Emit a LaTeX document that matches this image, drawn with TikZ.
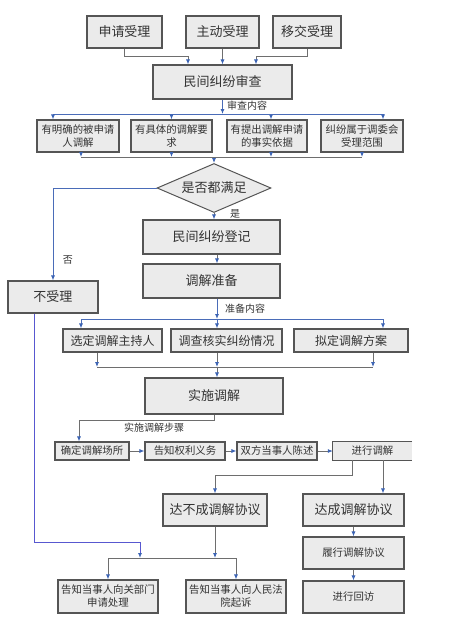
\documentclass[tikz,border=0pt]{standalone}
\usepackage{fontspec}
\setmainfont{Noto Sans CJK SC}
\usetikzlibrary{arrows.meta,shapes.geometric,shadows}
\definecolor{boxline}{HTML}{555555}
\definecolor{boxfill}{HTML}{EBEBEB}
\definecolor{lineg}{HTML}{6E6E6E}
\definecolor{lineb}{HTML}{4A6CB8}
\definecolor{linev}{HTML}{5858D0}
\definecolor{tipb}{HTML}{3C64B4}
\begin{document}
\begin{tikzpicture}[x=1pt,y=-1pt,
		>={Latex[length=5pt,width=4pt,color=tipb]},
		box/.style={draw=boxline,fill=boxfill,line width=1.1pt,inner sep=0pt,align=center,text=black!80,
			drop shadow={shadow xshift=1pt,shadow yshift=-1pt,fill=black!40,opacity=0.6}},
		wh/.style 2 args={minimum width=#1,minimum height=#2},
		bigtxt/.style={font=\fontsize{13}{15}\selectfont},
		smalltxt/.style={font=\fontsize{10.4}{13}\selectfont},
		gline/.style={draw=lineg,line width=0.8pt},
		bline/.style={draw=lineb,line width=0.9pt},
		vline/.style={draw=linev,line width=0.9pt},
		lbl/.style={font=\fontsize{10}{12}\selectfont,inner sep=0pt,text=black!80}]
		\useasboundingbox (0,0) rectangle (448,633);

		% three ways in
		\node[box,bigtxt,wh={75}{32}] (sq) at (124.5,32) {申请受理};
		\node[box,bigtxt,wh={73}{32}] (zd) at (222.5,32) {主动受理};
		\node[box,bigtxt,wh={68}{32}] (yj) at (307,32) {移交受理};
		\node[box,bigtxt,wh={139}{34}] (sc) at (222.5,82) {民间纠纷审查};

		\node[box,smalltxt,wh={82}{32}] (tj1) at (78,136) {有明确的被申请\\人调解};
		\node[box,smalltxt,wh={81}{32}] (tj2) at (171.5,136) {有具体的调解要\\求};
		\node[box,smalltxt,wh={80}{32}] (tj3) at (267,136) {有提出调解申请\\的事实依据};
		\node[box,smalltxt,wh={82}{32}] (tj4) at (362,136) {纠纷属于调委会\\受理范围};

		\node[diamond,draw=boxline,fill=boxfill,line width=1pt,bigtxt,text=black!80,aspect=2.3,
			minimum width=114,minimum height=49,inner sep=0pt] (pd) at (214,188) {是否都满足};

		\node[box,bigtxt,wh={90}{32}] (bsl) at (53,297) {不受理};
		\node[box,bigtxt,wh={137}{34}] (dj) at (211.5,237) {民间纠纷登记};
		\node[box,bigtxt,wh={137}{34}] (zb) at (211.5,281) {调解准备};

		\node[box,font=\fontsize{12}{14}\selectfont,wh={99}{23}] (ty1) at (112.5,340.5) {选定调解主持人};
		\node[box,font=\fontsize{12}{14}\selectfont,wh={111}{23}] (ty2) at (226.5,340.5) {调查核实纠纷情况};
		\node[box,font=\fontsize{12}{14}\selectfont,wh={114}{23}] (ty3) at (351,340.5) {拟定调解方案};
		\node[box,bigtxt,wh={138}{36}] (ss) at (214,396) {实施调解};

		\node[box,smalltxt,wh={74}{18}] (bz1) at (92,451) {确定调解场所};
		\node[box,smalltxt,wh={80}{18}] (bz2) at (185,451) {告知权利义务};
		\node[box,smalltxt,wh={80}{18}] (bz3) at (277,451) {双方当事人陈述};
		\node[fill=boxfill,inner sep=0pt,smalltxt,text=black!80,wh={79}{18}] (bz4) at (372.5,451) {进行调解};
		\draw[boxline,line width=1.1pt] (bz4.north east) -- (bz4.north west) -- (bz4.south west) -- (bz4.south east);

		\node[box,bigtxt,wh={104}{32}] (bc) at (215,510) {达不成调解协议};
		\node[box,bigtxt,wh={101}{32}] (dc) at (353.5,510) {达成调解协议};
		\node[box,smalltxt,wh={101}{32}] (lx) at (353.5,553) {履行调解协议};
		\node[box,smalltxt,wh={101}{32}] (hf) at (353.5,597) {进行回访};
		\node[box,smalltxt,wh={100}{33}] (gz1) at (108,596.5) {告知当事人向关部门\\申请处理};
		\node[box,smalltxt,wh={100}{33}] (gz2) at (236,596.5) {告知当事人向人民法\\院起诉};

		\coordinate (ra) at (222.5,114);
		\coordinate (rb) at (214,157);
		\coordinate (rc) at (217,319);
		\coordinate (rd) at (217,367);
		\coordinate (rf) at (214,558);
		\coordinate (rh) at (140,558);

		\draw[gline,->] (sq.south) -- ++(0,8) -| ([xshift=-34.5]sc.north);
		\draw[gline,->] (zd) -- (sc);
		\draw[gline,->] (yj.south) -- ++(0,8) -| ([xshift=33.5]sc.north);

		\draw[bline,->] (sc) -- (ra);
		\node[lbl,anchor=west] (scnr) at (227,106) {审查内容};
		\draw[bline,->] (ra) -| ([xshift=-25]tj1.north);
		\draw[bline,->] (ra) -| (tj2.north);
		\draw[bline,->] (ra) -| ([xshift=4]tj3.north);
		\draw[bline,->] (ra) -| ([xshift=21]tj4.north);

		\draw[gline] ([xshift=3]tj1.south |- rb) -- (tj4.south |- rb);
		\draw[gline,->] ([xshift=3]tj1.south) -- ([xshift=3]tj1.south |- rb);
		\draw[gline,->] (tj2.south) -- (tj2.south |- rb);
		\draw[gline,->] ([xshift=4]tj3.south) -- ([xshift=4]tj3.south |- rb);
		\draw[gline,->] (tj4.south) -- (tj4.south |- rb);
		\draw[gline,->] (rb) -- (pd.north);

		\draw[bline,->] (pd.west) -| (bsl.north);
		\node[lbl] (no) at (68,260) {否};
		\draw[gline,->] (pd.south) -- (pd.south |- dj.north);
		\node[lbl] (yes) at (235,214) {是};

		\draw[gline,->] ([xshift=5.5]dj.south) -- ([xshift=5.5]zb.north);
		\draw[bline,->] ([xshift=5.5]zb.south) -- (rc);
		\node[lbl,anchor=west] (zbnr) at (225,309) {准备内容};
		\draw[bline,->] (rc) -| ([xshift=-31.5]ty1.north);
		\draw[bline,->] (rc) -- (rc |- ty2.north);
		\draw[bline,->] (rc) -| ([xshift=32]ty3.north);

		\draw[gline] ([xshift=-15.5]ty1.south |- rd) -- ([xshift=22]ty3.south |- rd);
		\draw[gline,->] ([xshift=-15.5]ty1.south) -- ([xshift=-15.5]ty1.south |- rd);
		\draw[gline,->] ([xshift=-9.5]ty2.south) -- (rd);
		\draw[gline,->] ([xshift=22]ty3.south) -- ([xshift=22]ty3.south |- rd);
		\draw[gline,->] (rd) -- ([xshift=3]ss.north);

		\draw[gline,->] (ss.south) -- ++(0,6) -| ([xshift=-13]bz1.north);
		\node[lbl,anchor=west] (ssbz) at (124,428) {实施调解步骤};
		\draw[gline,->] (bz1) -- (bz2);
		\draw[gline,->] (bz2) -- (bz3);
		\draw[gline,->] (bz3) -- (bz4);

		\draw[gline,->] ([xshift=-20.5]bz4.south) -- ++(0,15) -| (bc.north);
		\draw[gline,->] ([xshift=10.5]bz4.south) -- ([xshift=10.5]bz4.south |- dc.north);
		\draw[gline,->] (dc) -- (lx);
		\draw[gline,->] (lx) -- (hf);

		\draw[vline,->] ([xshift=-19]bsl.south) -- ++(0,229) -| (rh);
		\draw[gline,->] (bc.south) -- (bc.south |- rf);
		\draw[gline,->] (rf) -| (gz1.north);
		\draw[gline,->] (rf) -| (gz2.north);
\end{tikzpicture}
\end{document}
